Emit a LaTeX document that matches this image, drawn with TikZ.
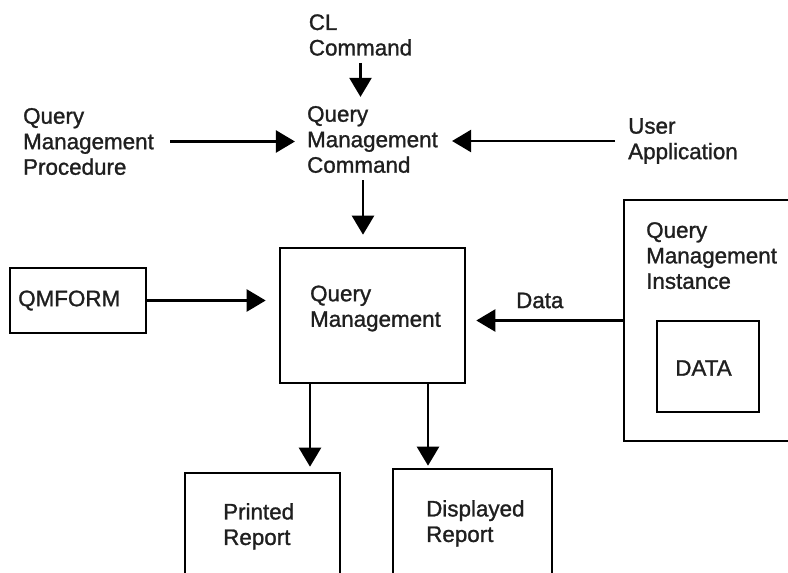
\documentclass[tikz,border=0pt]{standalone}
\usepackage{fontspec}
\setmainfont{Liberation Sans}[FakeBold=1.2]
\usetikzlibrary{arrows.meta}

\tikzstyle{txt} = [align=left, inner sep=0pt, text=black!88, font=\fontsize{22.4}{25.5}\selectfont]
\tikzstyle{box} = [draw, line width=2.6pt, inner sep=0pt]
\tikzstyle{arr} = [-{Triangle[length=19pt,width=22pt]}, line width=2.4pt]

\begin{document}
\begin{tikzpicture}[x=1pt,y=-1pt]
  \useasboundingbox (0,0) rectangle (788,573);

  \node (cl) at (360.5,35) [txt] {CL\\Command};
  \node (qmc) at (372.5,139.5) [txt] {Query\\Management\\Command};
  \node (qmp) at (88.5,141.5) [txt] {Query\\Management\\Procedure};
  \node (ua) at (683,141) [txt] {User\\Application};

  \node (qm) at (372.5,315.5) [box, minimum width=185pt, minimum height=135pt] {};
  \node (qmt) at (375.5,308.5) [txt] {Query\\Management};
  \node (qf) at (78,300.5) [box, minimum width=136pt, minimum height=65pt] {};
  \node (qft) at (18,300.5) [txt, anchor=west] {QMFORM};

  \node (inst) at (717,320.5) [box, minimum width=186pt, minimum height=241pt] {};
  \node (instt) at (646,222) [txt, anchor=north west] {Query\\Management\\Instance};
  \node (data) at (708,366.5) [box, minimum width=102pt, minimum height=91pt] {};
  \node (datat) at (703.5,368) [txt] {DATA};

  \node (pr) at (262.5,546.5) [box, minimum width=155pt, minimum height=147pt] {};
  \node (prt) at (223,503) [txt, anchor=north west] {Printed\\Report};
  \node (dr) at (472.5,544.5) [box, minimum width=159pt, minimum height=151pt] {};
  \node (drt) at (426,500) [txt, anchor=north west] {Displayed\\Report};

  \draw [arr, shorten <=7pt, shorten >=9pt] (cl) -- (cl |- qmc.north);
  \draw [arr, shorten <=16pt, shorten >=12pt] (qmp) -- (qmp -| qmc.west);
  \draw [arr, shorten <=13pt, shorten >=14pt] (ua) -- (ua -| qmc.east);
  \draw [arr, shorten <=7pt, shorten >=12pt] ([xshift=-9.5pt]qmc.south) -- ([xshift=-9.5pt]qmc.south |- qm.north);
  \draw [arr, shorten >=13pt] (qf) -- (qf -| qm.west);
  \draw [arr, shorten >=10pt] (inst) to node (datal) [txt, pos=0.53, above=11pt] {Data} (inst -| qm.east);
  \draw [arr, shorten >=5pt] ([xshift=-62.5pt]qm.south) -- ([xshift=-62.5pt]qm.south |- pr.north);
  \draw [arr, shorten >=2pt] ([xshift=55.5pt]qm.south) -- ([xshift=55.5pt]qm.south |- dr.north);
\end{tikzpicture}
\end{document}
